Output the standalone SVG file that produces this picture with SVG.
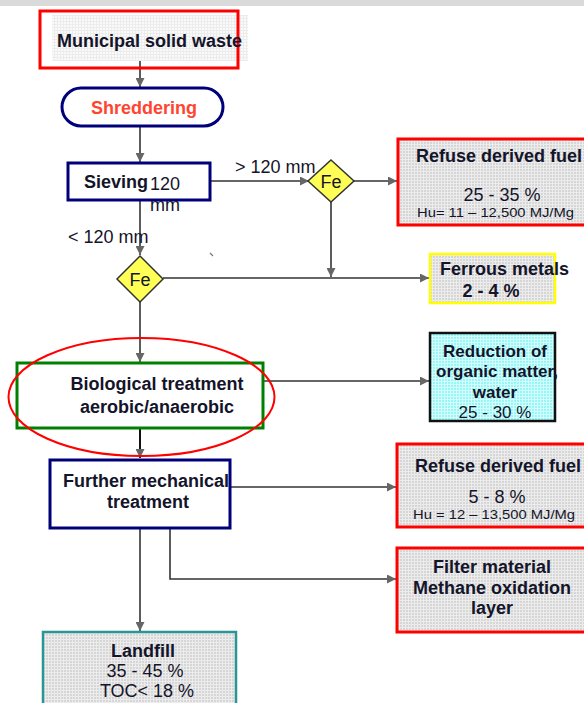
<svg xmlns="http://www.w3.org/2000/svg" width="584" height="703" viewBox="0 0 584 703">
<style>
text{font-family:"Liberation Sans",Arial,sans-serif;fill:#14142a;font-size:18px}
.b{font-weight:bold}
.c{text-anchor:middle}
.ln{stroke:#333;stroke-width:1.6;fill:none}
.lnA{stroke:#333;stroke-width:1.6;fill:none;marker-end:url(#ah)}
.dia{fill:#ffff55;stroke:#333;stroke-width:1.5}
</style>
<defs>
<marker id="ah" viewBox="0 0 10 10" refX="10" refY="5" markerWidth="10" markerHeight="9" markerUnits="userSpaceOnUse" orient="auto">
<path d="M0,0 L10,5 L0,10 z" fill="#666"/>
</marker>
<pattern id="grid" width="3" height="3" patternUnits="userSpaceOnUse">
<rect width="3" height="3" fill="#d6d6d6"/>
<path d="M0,0.5H3M0.5,0V3" stroke="#ececec" stroke-width="1"/>
</pattern>
<pattern id="gridL" width="3" height="3" patternUnits="userSpaceOnUse">
<rect width="3" height="3" fill="#fafafa"/>
<path d="M0,0.5H3M0.5,0V3" stroke="#ececec" stroke-width="1"/>
</pattern>
<pattern id="gridC" width="3" height="3" patternUnits="userSpaceOnUse">
<rect width="3" height="3" fill="#99f6f6"/>
<path d="M0,0.5H3M0.5,0V3" stroke="#d4ffff" stroke-width="1"/>
</pattern>
</defs>
<rect x="0" y="0" width="584" height="703" fill="#fff"/>
<rect x="0" y="0" width="584" height="6" fill="#dadada"/>

<g id="connectors">
<line class="lnA" x1="140" y1="49" x2="140" y2="87"/>
<line class="lnA" x1="140" y1="127" x2="140" y2="162"/>
<line class="lnA" x1="211" y1="181" x2="309" y2="181"/>
<line class="lnA" x1="354" y1="181" x2="397" y2="181"/>
<line class="lnA" x1="140" y1="201" x2="140" y2="255"/>
<line class="lnA" x1="331" y1="202" x2="331" y2="277"/>
<line class="lnA" x1="163" y1="278" x2="429" y2="278"/>
<line class="lnA" x1="140" y1="302" x2="140" y2="362"/>
<line class="lnA" x1="263" y1="381" x2="429" y2="381"/>
<line class="lnA" x1="140" y1="428" x2="140" y2="458" style="stroke:#111;stroke-width:2"/>
<line class="lnA" x1="230" y1="487" x2="396" y2="487"/>
<polyline class="lnA" points="170,528 170,579 396,579"/>
<line class="lnA" x1="140" y1="528" x2="140" y2="631"/>
<line x1="210" y1="253" x2="213" y2="256" stroke="#777" stroke-width="1.2"/>
<text x="235" y="173">&gt; 120 mm</text>
<text x="68" y="243">&lt; 120 mm</text>
</g>

<g id="municipal">
<rect x="52" y="15" width="196" height="46" fill="url(#gridL)"/>
<rect x="40" y="11" width="198" height="57" fill="none" stroke="#ff0000" stroke-width="3"/>
<text class="b" x="57" y="47">Municipal solid waste</text>
</g>

<g id="shreddering">
<rect x="62" y="88" width="161" height="38" rx="19" fill="#fff" stroke="#00007a" stroke-width="3"/>
<text class="b c" x="144" y="114" style="fill:#ff4530">Shreddering</text>
</g>

<g id="sieving">
<rect x="68" y="163" width="142" height="37" fill="#fff" stroke="#00007a" stroke-width="3"/>
<text class="b" x="84" y="188">Sieving</text>
<text x="150" y="190">120</text>
<text x="150" y="211">mm</text>
</g>

<g id="fe1">
<polygon class="dia" points="331,160 354,181 331,202 308,181"/>
<text class="c" x="331" y="188">Fe</text>
</g>

<g id="rdf1">
<rect x="398" y="139" width="200" height="86" fill="url(#grid)" stroke="#ff0000" stroke-width="3"/>
<text class="b" x="416" y="162">Refuse derived fuel</text>
<text class="c" x="502" y="201">25 - 35 %</text>
<text x="417" y="217" style="font-size:13px" textLength="157" lengthAdjust="spacingAndGlyphs">Hu= 11 – 12,500 MJ/Mg</text>
</g>

<g id="fe2">
<polygon class="dia" points="140,256 163,279 140,302 117,279"/>
<text class="c" x="140" y="286">Fe</text>
</g>

<g id="ferrous">
<rect x="430" y="254" width="125" height="49" fill="url(#grid)" stroke="#ffff00" stroke-width="2.5"/>
<text class="b" x="440" y="275">Ferrous metals</text>
<text class="b c" x="491" y="297">2 - 4 %</text>
</g>

<g id="biological">
<rect x="17" y="363" width="246" height="65" fill="#fff" stroke="#008000" stroke-width="3"/>
<text class="b c" x="157" y="390">Biological treatment</text>
<text class="b c" x="157" y="413">aerobic/anaerobic</text>
</g>
<ellipse cx="141.5" cy="397" rx="133" ry="59" fill="none" stroke="#ff0000" stroke-width="2"/>

<g id="reduction">
<rect x="430" y="333" width="125" height="88" fill="url(#gridC)" stroke="#111" stroke-width="2.5"/>
<text class="b c" x="495" y="357" style="font-size:17px">Reduction of</text>
<text class="b c" x="497" y="377" style="font-size:17px">organic matter,</text>
<text class="b c" x="495" y="398" style="font-size:17px">water</text>
<text class="c" x="495" y="418" style="font-size:17px">25 - 30 %</text>
</g>

<g id="further">
<rect x="50" y="460" width="180" height="68" fill="#fff" stroke="#00007a" stroke-width="3"/>
<text class="b c" x="146" y="487">Further mechanical</text>
<text class="b c" x="148" y="508">treatment</text>
</g>

<g id="rdf2">
<rect x="397" y="444" width="200" height="83" fill="url(#grid)" stroke="#ff0000" stroke-width="3"/>
<text class="b" x="415" y="472">Refuse derived fuel</text>
<text class="c" x="497" y="503">5 - 8 %</text>
<text x="413" y="519" style="font-size:13px" textLength="162" lengthAdjust="spacingAndGlyphs">Hu = 12 – 13,500 MJ/Mg</text>
</g>

<g id="filter">
<rect x="397" y="548" width="200" height="84" fill="url(#grid)" stroke="#ff0000" stroke-width="3"/>
<text class="b c" x="492" y="573">Filter material</text>
<text class="b c" x="492" y="594">Methane oxidation</text>
<text class="b c" x="492" y="614">layer</text>
</g>

<g id="landfill">
<rect x="43" y="632" width="193" height="80" fill="url(#grid)" stroke="#2a9595" stroke-width="2.5"/>
<text class="b c" x="143" y="657">Landfill</text>
<text class="c" x="145" y="677">35 - 45 %</text>
<text class="c" x="147" y="697">TOC&lt; 18 %</text>
</g>
</svg>
